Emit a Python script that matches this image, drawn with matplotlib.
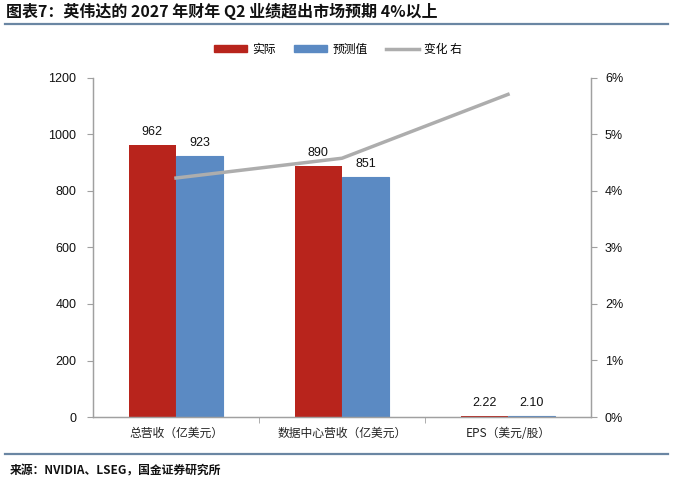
import matplotlib
matplotlib.use("Agg")
import matplotlib.pyplot as plt
from matplotlib.ticker import FuncFormatter, MultipleLocator
from matplotlib.lines import Line2D
from matplotlib.patches import Patch
import numpy as np

plt.rcParams['font.family'] = ['Noto Sans CJK SC', 'DejaVu Sans']

categories = ["总营收（亿美元）", "数据中心营收（亿美元）", "EPS（美元/股）"]
actual = [962, 890, 2.22]
forecast = [923, 851, 2.10]
actual_labels = ["962", "890", "2.22"]
forecast_labels = ["923", "851", "2.10"]
change_pct = [4.23, 4.58, 5.71]
series_names = ["实际", "预测值", "变化 右"]

RED = "#B8241C"
BLUE = "#5B8AC3"
GRAY = "#ADADAD"
SPINE = "#A0A0A0"
RULE = "#6A86A3"
NUM_FONT = ['Liberation Sans', 'DejaVu Sans']

fig = plt.figure(figsize=(6.8, 4.84), dpi=100)
ax = fig.add_axes([93/680, 1-417/484, (591-93)/680, (417-78)/484])

x = np.arange(len(categories))
w = 0.285
b1 = ax.bar(x - w/2, actual, width=w, color=RED, linewidth=0, zorder=2)
b2 = ax.bar(x + w/2, forecast, width=w, color=BLUE, edgecolor=BLUE, linewidth=0.8, zorder=2)

for rect, lab in zip(b1, actual_labels):
    ax.annotate(lab, (rect.get_x() + rect.get_width()/2, rect.get_height()),
                xytext=(0, 5), textcoords='offset points', ha='center', va='bottom',
                fontsize=9, family=NUM_FONT, color='#111111')
for rect, lab in zip(b2, forecast_labels):
    ax.annotate(lab, (rect.get_x() + rect.get_width()/2, rect.get_height()),
                xytext=(0, 5), textcoords='offset points', ha='center', va='bottom',
                fontsize=9, family=NUM_FONT, color='#111111')

ax.set_xlim(-0.5, 2.5)
ax.set_ylim(0, 1200)
ax.yaxis.set_major_locator(MultipleLocator(200))
ax.set_xticks(x)
ax.set_xticklabels(categories, fontsize=8.5, color='#222222')
ax.set_xticks([0.5, 1.5], minor=True)
ax.tick_params(axis='x', which='major', length=0, pad=7)
ax.tick_params(axis='x', which='minor', length=4, color=SPINE, direction='out')
ax.tick_params(axis='y', length=4, color=SPINE, labelsize=9, labelcolor='#111111', pad=8)
for t in ax.get_yticklabels():
    t.set_family(NUM_FONT)
ax.spines['top'].set_visible(False)
for s in ['left', 'bottom', 'right']:
    ax.spines[s].set_color(SPINE)
    ax.spines[s].set_linewidth(0.9)

ax2 = ax.twinx()
ax2.plot(x, [v/100 for v in change_pct], color=GRAY, linewidth=2.5, zorder=3)
ax2.set_ylim(0, 0.06)
ax2.yaxis.set_major_locator(MultipleLocator(0.01))
ax2.yaxis.set_major_formatter(FuncFormatter(lambda v, p: f"{v*100:.0f}%"))
ax2.tick_params(axis='y', length=4, color=SPINE, labelsize=9, labelcolor='#111111', pad=6)
for t in ax2.get_yticklabels():
    t.set_family(NUM_FONT)
ax2.spines['top'].set_visible(False)
for s in ['left', 'bottom', 'right']:
    ax2.spines[s].set_color(SPINE)
    ax2.spines[s].set_linewidth(0.9)

handles = [Patch(facecolor=RED, edgecolor=RED),
           Patch(facecolor=BLUE, edgecolor=BLUE),
           Line2D([0], [0], color=GRAY, linewidth=2.5)]
fig.legend(handles, series_names, loc='center', bbox_to_anchor=(0.497, 1-49/484),
           ncol=3, frameon=False, fontsize=8.5, handlelength=2.8, handleheight=0.55,
           handletextpad=0.4, columnspacing=1.6)

# title and rules
fig.text(6/680, 1-11/484, "图表7：英伟达的 2027 年财年 Q2 业绩超出市场预期 4%以上",
         fontsize=11.5, fontweight='bold', fontstyle='italic', ha='left', va='center',
         color='#111111')
fig.add_artist(Line2D([5/680, 668/680], [1-24/484, 1-24/484], color=RULE, linewidth=1.6))
fig.add_artist(Line2D([5/680, 668/680], [1-454/484, 1-454/484], color=RULE, linewidth=1.6))
fig.text(10/680, 1-471/484, "来源：NVIDIA、LSEG，国金证券研究所", fontsize=8.5,
         fontweight='bold', ha='left', va='center', color='#111111')

fig.savefig("out.png", dpi=100)
